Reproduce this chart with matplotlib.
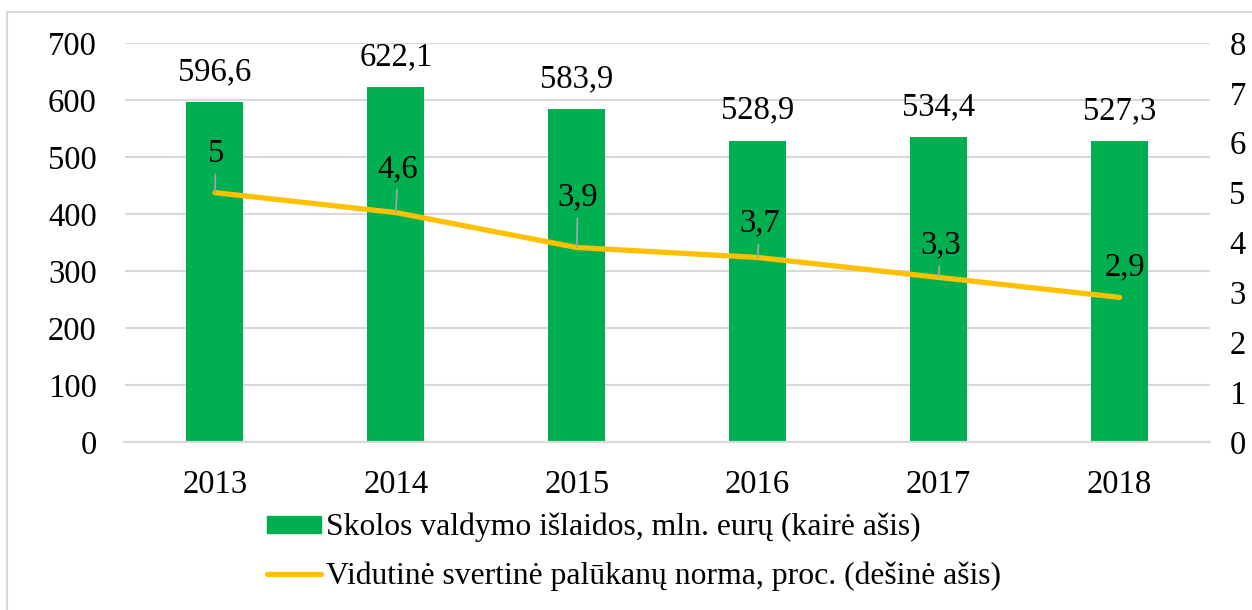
import matplotlib.pyplot as plt
from matplotlib.patches import Rectangle
from matplotlib.lines import Line2D
from matplotlib.patches import Patch

plt.rcParams['font.family'] = ['Liberation Serif', 'DejaVu Serif']

years = ['2013', '2014', '2015', '2016', '2017', '2018']
islaidos = [596.6, 622.1, 583.9, 528.9, 534.4, 527.3]
norma = [5, 4.6, 3.9, 3.7, 3.3, 2.9]
islaidos_lbl = ['596,6', '622,1', '583,9', '528,9', '534,4', '527,3']
norma_lbl = ['5', '4,6', '3,9', '3,7', '3,3', '2,9']

# label offsets above the line points (pixels)
lbl_dy = [39, 44, 50, 34, 32, 30]
lbl_dx = [1, 2, 1, 2, 2, 5]

green = '#00B050'
yellow = '#FFC000'
grid = '#D9D9D9'
fs = 23.5
fs_leg = 22.8

W, H = 1252, 610
fig = plt.figure(figsize=(W / 100, H / 100), dpi=100)
ax = fig.add_axes([124.5 / W, 1 - 442 / H, (1210 - 124.5) / W, (442 - 43) / H])
ax2 = ax.twinx()

x = range(len(years))
ax.bar(x, islaidos, width=0.315, color=green, zorder=2)
ax.set_ylim(0, 700)
ax.set_yticks(range(0, 701, 100))
ax.set_xlim(-0.5, len(years) - 0.5)
ax.set_xticks(list(x))
ax.set_xticklabels(years)
ax.grid(axis='y', color=grid, lw=1.5, zorder=0)
ax.set_axisbelow(True)

for i, v in enumerate(islaidos):
    ax.annotate(islaidos_lbl[i], (i, v), xytext=(0, 30), textcoords='offset pixels',
                ha='center', va='center', fontsize=fs)

ax2.plot(x, norma, color=yellow, lw=3.8, solid_capstyle='round', zorder=3)
ax2.set_ylim(0, 8)
ax2.set_yticks(range(0, 9))

for i, v in enumerate(norma):
    arrow = dict(arrowstyle='-', color='#A6A6A6', lw=1.2, shrinkA=2, shrinkB=0) if i < len(norma) - 1 else None
    ax2.annotate(norma_lbl[i], (i, v), xytext=(lbl_dx[i], lbl_dy[i]), textcoords='offset pixels',
                 ha='center', va='center', fontsize=fs, arrowprops=arrow)

for a in (ax, ax2):
    for s in ['top', 'left', 'right']:
        a.spines[s].set_visible(False)
    a.spines['bottom'].set_color(grid)
    a.spines['bottom'].set_linewidth(1.5)
ax.tick_params(axis='y', length=0, labelsize=fs, pad=20)
ax.tick_params(axis='x', length=0, labelsize=fs, pad=20)
ax2.tick_params(axis='y', length=0, labelsize=fs, pad=14)

handles = [Patch(color=green), Line2D([0], [0], color=yellow, lw=3.8, solid_capstyle='round')]
labels = ['Skolos valdymo išlaidos, mln. eurų (kairė ašis)',
          'Vidutinė svertinė palūkanų norma, proc. (dešinė ašis)']
fig.legend(handles, labels, loc='upper left', bbox_to_anchor=(267 / W, 1 - 513 / H),
           frameon=False, fontsize=fs_leg, handlelength=1.7, handleheight=0.47,
           handletextpad=0.15, labelspacing=0.6, borderpad=0, borderaxespad=0)

fig.add_artist(Rectangle((7 / W, -0.1), 2, 1.1 - 12 / H, transform=fig.transFigure,
                         fill=False, edgecolor=grid, lw=1.5))

fig.savefig('out.png', dpi=100)
